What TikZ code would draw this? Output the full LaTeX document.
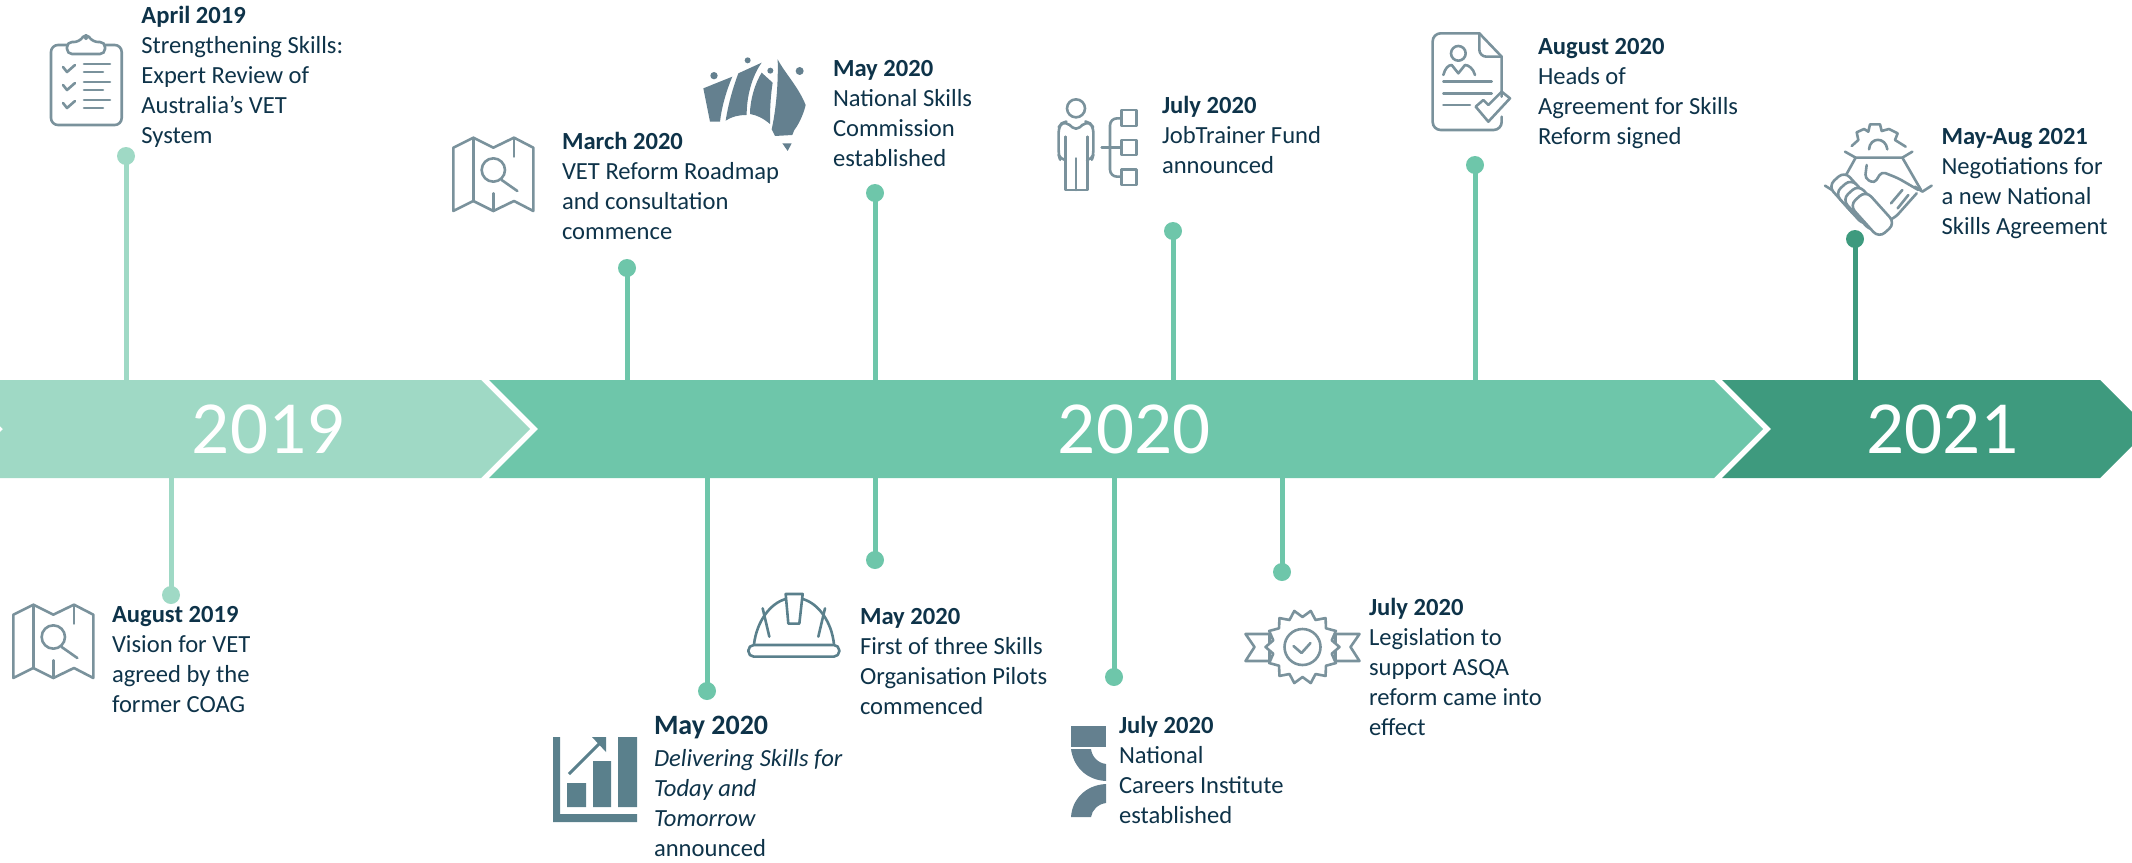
\documentclass[tikz,border=0pt]{standalone}
\usepackage{fontspec}
\setmainfont{Carlito}
\definecolor{band19}{HTML}{9FD9C5}
\definecolor{band20}{HTML}{6EC6AA}
\definecolor{band21}{HTML}{3E9A7E}
\definecolor{ink}{HTML}{0E3349}
\definecolor{icoline}{HTML}{7A929C}
\definecolor{icofill}{HTML}{64808F}
\definecolor{chartfill}{HTML}{5A808C}
\tikzset{
  txt/.style={anchor=north west,inner sep=0pt,outer sep=0pt,align=left,text=ink,font=\fontsize{24.6pt}{30pt}\selectfont},
  year/.style={inner sep=0pt,text=white,font=\fontsize{75pt}{80pt}\selectfont},
  dotA/.style={circle,minimum size=18pt,inner sep=0pt,fill=band19},
  dotB/.style={circle,minimum size=18pt,inner sep=0pt,fill=band20},
  dotC/.style={circle,minimum size=18pt,inner sep=0pt,fill=band21},
  stemA/.style={draw=band19,line width=5pt},
  stemB/.style={draw=band20,line width=5pt},
  stemC/.style={draw=band21,line width=5pt},
  ico/.style={draw=icoline,line width=2.6pt,line cap=round,line join=round},
  pics/mapicon/.style={code={
    \draw[ico] (40,68)--(100,38)--(160,68)--(222,38)--(280,68)--(280,258)--(222,228)--(160,258)--(100,228)--(40,258)--cycle;
    \draw[ico] (100,38)--(100,228) (222,38)--(222,95) (160,205)--(160,258);
    \draw[ico] (160,135) circle (35);
    \draw[ico] (185,165)--(232,198);
  }},
  pics/capsule/.style={code={
    \draw[ico,rounded corners=8pt,fill=white] (-22,-11) rectangle (22,11);
  }}
}
\begin{document}
\begin{tikzpicture}[x=1pt,y=-1pt]
\clip (0,0) rectangle (2132,862);
\coordinate (bandtop) at (0,380);
\coordinate (bandbot) at (0,478);
% bands
\fill[band19] (-46,380)--(481,380)--(530,429)--(481,478)--(-46,478)--(3,429)--cycle;
\fill[band20] (489,380)--(1714,380)--(1763,429)--(1714,478)--(489,478)--(538,429)--cycle;
\fill[band21] (1722,380)--(2100,380)--(2149,429)--(2100,478)--(1722,478)--(1771,429)--cycle;
\node[year] (y19) at (268,429) {2019};
\node[year] (y20) at (1134,429) {2020};
\node[year] (y21) at (1942,429) {2021};
% dots
\node[dotA] (d1) at (126,156) {};
\node[dotB] (d2) at (627,268) {};
\node[dotB] (d3) at (875,193) {};
\node[dotB] (d4) at (1173,231) {};
\node[dotB] (d5) at (1475,165) {};
\node[dotC] (d6) at (1855,239) {};
\node[dotA] (d7) at (171,595) {};
\node[dotB] (d8) at (707,691) {};
\node[dotB] (d9) at (875,560) {};
\node[dotB] (d10) at (1114,677) {};
\node[dotB] (d11) at (1282,572) {};
% stems
\draw[stemA] (d1.center)--(d1.center |- bandtop);
\draw[stemB] (d2.center)--(d2.center |- bandtop);
\draw[stemB] (d3.center)--(d3.center |- bandtop);
\draw[stemB] (d4.center)--(d4.center |- bandtop);
\draw[stemB] (d5.center)--(d5.center |- bandtop);
\draw[stemC] (d6.center)--(d6.center |- bandtop);
\draw[stemA] (d7.center)--(d7.center |- bandbot);
\draw[stemB] (d8.center)--(d8.center |- bandbot);
\draw[stemB] (d9.center)--(d9.center |- bandbot);
\draw[stemB] (d10.center)--(d10.center |- bandbot);
\draw[stemB] (d11.center)--(d11.center |- bandbot);
% texts
\node[txt] (t1) at (141.4,2) {\strut\textbf{April 2019}\\Strengthening Skills:\\Expert Review of\\Australia’s VET\\System};
\node[txt] (t2) at (562,128) {\strut\textbf{March 2020}\\VET Reform Roadmap\\and consultation\\commence};
\node[txt] (t3) at (833,55) {\strut\textbf{May 2020}\\National Skills\\Commission\\established};
\node[txt] (t4) at (1162,92) {\strut\textbf{July 2020}\\JobTrainer Fund\\announced};
\node[txt] (t5) at (1538,33) {\strut\textbf{August 2020}\\Heads of\\Agreement for Skills\\Reform signed};
\node[txt] (t6) at (1941.5,123) {\strut\textbf{May-Aug 2021}\\Negotiations for\\a new National\\Skills Agreement};
\node[txt] (t7) at (112,601) {\strut\textbf{August 2019}\\Vision for VET\\agreed by the\\former COAG};
\node[txt] (t8) at (654,713) {\strut{\fontsize{28pt}{30pt}\selectfont\textbf{May 2020}}\\[2pt]\textit{Delivering Skills for}\\\textit{Today and}\\\textit{Tomorrow}\\announced};
\node[txt] (t9) at (860,603) {\strut\textbf{May 2020}\\First of three Skills\\Organisation Pilots\\commenced};
\node[txt] (t10) at (1119,712) {\strut\textbf{July 2020}\\National\\Careers Institute\\established};
\node[txt] (t11) at (1369,594) {\strut\textbf{July 2020}\\Legislation to\\support ASQA\\reform came into\\effect};
% clipboard
\begin{scope}[ico]
\draw[rounded corners=7pt] (67,45)--(51,45)--(51,125)--(121.7,125)--(121.7,45)--(105,45);
\draw[fill=white,rounded corners=5pt] (67,54)--(67,42)--(79,42)--(86,33)--(93,42)--(105,42)--(105,54)--cycle;
\fill[icoline] (86,38) circle (2);
\foreach \dy in {0,18,36}{
  \draw (63,{67+\dy})--(67,{72+\dy})--(75,{65+\dy});
  \draw (84,{64+\dy})--(110,{64+\dy}) (84,{72+\dy})--(103,{72+\dy});
}
\end{scope}
% maps
\pic[scale=.3333] at (440,125) {mapicon};
\pic[scale=.3333] at (0,592) {mapicon};
% australia
\begin{scope}[shift={(695,50)},scale=.3333]
\fill[icofill] (25,115)--(112,80) .. controls (95,120) and (80,170) .. (75,215)--(45,215)--cycle;
\fill[icofill] (130,70)--(200,38) .. controls (170,80) and (155,140) .. (155,195) .. controls (130,195) and (110,200) .. (92,212) .. controls (100,160) and (115,110) .. (130,70)--cycle;
\fill[icofill] (200,68)--(233,98) .. controls (225,150) and (225,190) .. (225,222) .. controls (205,205) and (185,195) .. (165,192) .. controls (165,150) and (180,100) .. (200,68)--cycle;
\fill[icofill] (248,28) .. controls (270,70) and (310,110) .. (332,165) .. controls (325,195) and (310,225) .. (298,240)--(292,255)--(240,258)--(230,238) .. controls (245,170) and (250,90) .. (248,28)--cycle;
\fill[icofill] (262,280)--(290,280)--(278,303)--cycle;
\fill[icofill] (57,77) circle (11) (158,31) circle (9) (226,62) circle (9) (314,63) circle (12);
\end{scope}
% person and org chart
\begin{scope}[shift={(1050,90)},scale=.3333,ico]
\draw (78,55) circle (27);
\draw[rounded corners=5pt] (47,210)--(30,208)--(26,195)--(26,112)--(35,100)--(48,95)--(78,122)--(108,95)--(120,100)--(130,112)--(130,195)--(126,208)--(112,210);
\draw (47,140)--(47,300)--(112,300)--(112,140) (78,205)--(78,300);
\draw (155,172)--(215,172);
\draw[rounded corners=7pt] (215,85)--(180,85)--(180,260)--(215,260);
\draw (215,60) rectangle (260,108) (215,150) rectangle (260,195) (215,238) rectangle (260,285);
\end{scope}
% document
\begin{scope}[shift={(1420,25)},scale=.3333,ico]
\draw[rounded corners=8pt] (245,275)--(245,315)--(38,315)--(38,25)--(178,25);
\draw (178,25)--(245,95)--(245,215);
\draw[rounded corners=7pt] (178,25)--(178,95)--(245,95);
\draw (115,85) circle (22);
\draw (70,150) .. controls (75,130) and (85,120) .. (95,120) -- (115,145) -- (135,120) .. controls (145,120) and (160,130) .. (165,150);
\draw (70,170)--(215,170) (70,205)--(215,205) (70,240)--(150,240);
\draw (167,245)--(205,290)--(270,220)--(245,200)--(205,240)--(190,225)--cycle;
\end{scope}
% handshake
\begin{scope}[shift={(1815,115)},scale=.3333,ico]
\draw (110,93)--(130,75)--(125,52)--(147,42)--(160,50)--(165,28)--(195,28)--(200,48)--(222,42)--(248,55)--(240,75)--(272,95);
\draw (162,103) .. controls (165,65) and (212,65) .. (217,103);
\draw (90,110)--(122,128)--(262,128)--(292,110);
\draw (122,128)--(68,225) (262,128)--(318,225);
\draw (30,212)--(62,232)--(90,215) (300,215)--(322,230)--(350,212);
\draw[rounded corners=4pt] (155,150)--(150,190)--(178,205)--(200,170)--(250,190)--(310,225);
\draw[rounded corners=5pt] (305,235)--(240,308)--(215,318)--(195,295);
\draw (228,265)--(262,225) (248,280)--(280,240);
\pic[rotate=-48] at (108,240) {capsule};
\pic[rotate=-48] at (128,262) {capsule};
\pic[rotate=-48] at (150,280) {capsule};
\pic[rotate=-48] at (172,298) {capsule};
\end{scope}
% chart
\fill[chartfill] (553,737)--(560,737)--(560,814)--(637,814)--(637,822)--(553,822)--cycle;
\fill[chartfill] (567,783) rectangle (586,807) (593,761) rectangle (611,807) (618,737) rectangle (637,807);
\draw[chartfill,line width=3pt] (569,774)--(602,741);
\fill[chartfill] (606,737)--(592,737)--(606,752)--cycle;
% hard hat
\begin{scope}[shift={(740,585)},scale=.3333,draw=chartfill]
\draw[ico,draw=chartfill,rounded corners=5.5pt] (25,180) rectangle (298,215);
\draw[ico,draw=chartfill] (42,178) .. controls (50,110) and (90,55) .. (137,42);
\draw[ico,draw=chartfill] (188,42) .. controls (235,55) and (275,110) .. (282,178);
\draw[ico,draw=chartfill] (137,27)--(188,27)--(178,116)--(145,116)--cycle;
\draw[ico,draw=chartfill] (68,70)--(88,155) (255,70)--(235,155);
\end{scope}
% NCI mark
\fill[icofill] (1071,726) rectangle (1106,747);
\fill[icofill] (1071,749)--(1091,749) .. controls (1092,757) and (1098,763) .. (1106,764)--(1106,781) .. controls (1085,780) and (1073,765) .. (1071,749)--cycle;
\fill[icofill] (1106,784) .. controls (1085,785) and (1072,800) .. (1071,817)--(1091,817) .. controls (1092,810) and (1098,804) .. (1106,803)--cycle;
% badge
\begin{scope}[shift={(1302.5,647)},ico]
\draw (-33,-13)--(-57,-13)--(-48,0)--(-57,14)--(-33,14)--cycle;
\draw (33,-13)--(57,-13)--(48,0)--(57,14)--(33,14)--cycle;
\draw[fill=white] (0:37) \foreach \a in {1,...,27}{ -- ({\a*360/28}:{mod(\a,2)==0?37:30}) } -- cycle;
\draw (0,0) circle (18);
\draw (-9,-1)--(-1,6)--(8,-4);
\end{scope}
\end{tikzpicture}
\end{document}
